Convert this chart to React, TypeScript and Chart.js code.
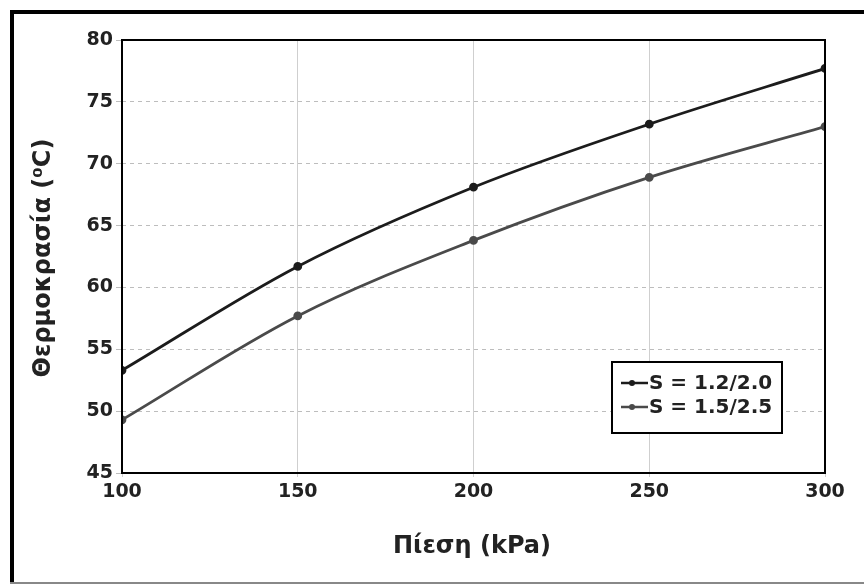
import React, { useEffect, useRef } from "react";
import { Chart, registerables } from "chart.js";

Chart.register(...registerables);

const pressures = [100, 150, 200, 250, 300];
const seriesA = [53.3, 61.7, 68.1, 73.2, 77.7];
const seriesB = [49.3, 57.7, 63.8, 68.9, 73.0];
const seriesLabels = ["S = 1.2/2.0", "S = 1.5/2.5"];
const seriesColors = ["#1c1c1c", "#4a4a4a"];
const xTitle = "Πίεση (kPa)";
const yTitle = "Θερμοκρασία (⁰C)";

const FONT = "'DejaVu Sans', Verdana, sans-serif";

const decorPlugin = {
  id: "decor",
  beforeDraw(chart: any) {
    const ctx = chart.ctx;
    ctx.save();
    ctx.fillStyle = "#ffffff";
    ctx.fillRect(0, 0, chart.width, chart.height);
    ctx.fillStyle = "#000";
    ctx.fillRect(10, 10, 4, 572);
    ctx.fillRect(10, 10, 854, 4);
    ctx.fillStyle = "#888";
    ctx.fillRect(10, 582, 854, 2);
    ctx.restore();
  },
  afterDraw(chart: any) {
    const ctx = chart.ctx;
    const a = chart.chartArea;
    ctx.save();
    ctx.strokeStyle = "#000";
    ctx.lineWidth = 2;
    ctx.strokeRect(a.left, a.top, a.right - a.left, a.bottom - a.top);
    ctx.fillStyle = "#222";
    ctx.font = `bold 24px ${FONT}`;
    ctx.textAlign = "center";
    ctx.textBaseline = "middle";
    ctx.fillText(xTitle, 472, 547);
    ctx.translate(44, 258);
    ctx.rotate(-Math.PI / 2);
    ctx.fillText(yTitle, 0, 0);
    ctx.restore();

    ctx.save();
    const lx = 612, ly = 362, lw = 170, lh = 71;
    ctx.fillStyle = "#fff";
    ctx.fillRect(lx, ly, lw, lh);
    ctx.strokeStyle = "#000";
    ctx.lineWidth = 2;
    ctx.strokeRect(lx, ly, lw, lh);
    const rows = [383, 407];
    rows.forEach((y, i) => {
      ctx.strokeStyle = seriesColors[i];
      ctx.fillStyle = seriesColors[i];
      ctx.lineWidth = 2.5;
      ctx.beginPath();
      ctx.moveTo(621, y);
      ctx.lineTo(648, y);
      ctx.stroke();
      ctx.beginPath();
      ctx.arc(632, y, 3, 0, Math.PI * 2);
      ctx.fill();
      ctx.fillStyle = "#222";
      ctx.font = `bold 20px ${FONT}`;
      ctx.textAlign = "left";
      ctx.textBaseline = "middle";
      ctx.fillText(seriesLabels[i], 649, y + 1);
    });
    ctx.restore();
  },
};

export default function App() {
  const ref = useRef<HTMLCanvasElement>(null);
  useEffect(() => {
    if (!ref.current) return;
    const mk = (vals: number[]) => pressures.map((x, i) => ({ x, y: vals[i] }));
    const chart = new Chart(ref.current, {
      type: "line",
      data: {
        datasets: [
          {
            label: seriesLabels[0],
            data: mk(seriesA),
            borderColor: seriesColors[0],
            backgroundColor: seriesColors[0],
            borderWidth: 2.8,
            pointRadius: 3,
            cubicInterpolationMode: "monotone",
          },
          {
            label: seriesLabels[1],
            data: mk(seriesB),
            borderColor: seriesColors[1],
            backgroundColor: seriesColors[1],
            borderWidth: 2.8,
            pointRadius: 3,
            cubicInterpolationMode: "monotone",
          },
        ],
      },
      options: {
        responsive: false,
        animation: false,
        layout: { padding: { left: 14, top: 40, right: 39, bottom: 0 } },
        plugins: { legend: { display: false }, tooltip: { enabled: false } },
        scales: {
          x: {
            type: "linear",
            min: 100,
            max: 300,
            afterFit: (s: any) => { s.height = 111; },
            ticks: {
              stepSize: 50,
              color: "#222",
              font: { family: FONT, size: 19, weight: "bold" },
              padding: 4,
            },
            grid: {
              color: (c: any) => (c.tick && (c.tick.value === 100 || c.tick.value === 300) ? "rgba(0,0,0,0)" : "#cfcfcf"),
              tickLength: 4,
              tickColor: "#cfcfcf",
            },
            border: { display: false },
          },
          y: {
            min: 45,
            max: 80,
            afterFit: (s: any) => { s.width = 108; },
            ticks: {
              stepSize: 5,
              color: "#222",
              font: { family: FONT, size: 19, weight: "bold" },
              padding: 3,
            },
            grid: {
              color: (c: any) => (c.tick && (c.tick.value === 45 || c.tick.value === 80) ? "rgba(0,0,0,0)" : "#bdbdbd"),
              tickLength: 6,
              tickColor: "#bdbdbd",
            },
            border: { display: false, dash: [4, 4] },
          },
        },
      },
      plugins: [decorPlugin],
    } as any);
    return () => chart.destroy();
  }, []);
  return (
    <div style={{ position: "absolute", left: 0, top: 0, width: 864, height: 584 }}>
      <canvas ref={ref} width={864} height={584} style={{ display: "block" }} />
    </div>
  );
}
